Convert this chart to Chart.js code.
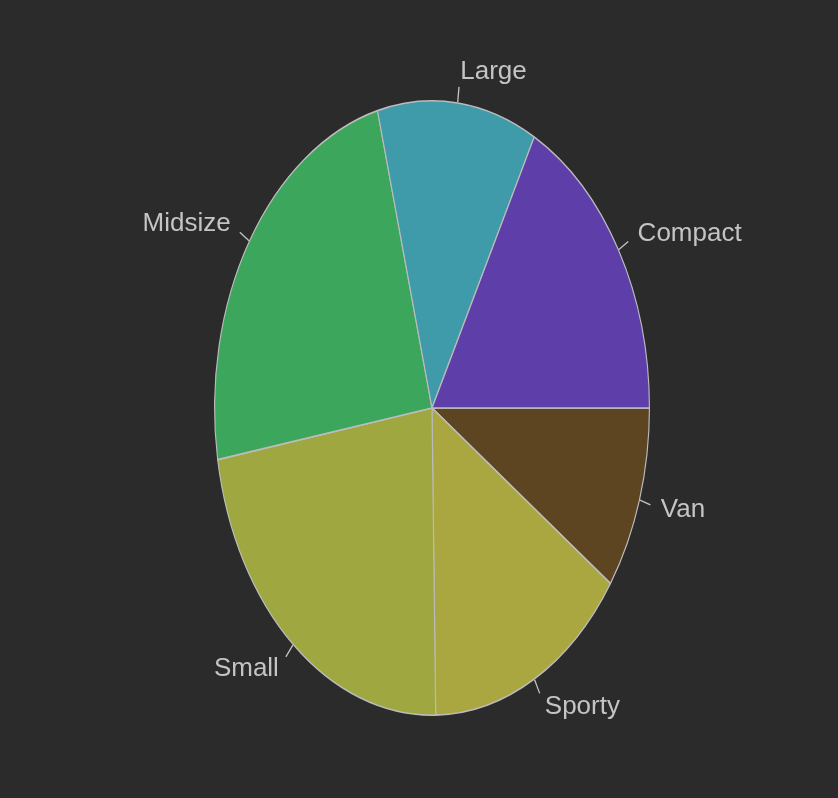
<!DOCTYPE html>
<html>
<head>
<meta charset="utf-8">
<script src="https://cdn.jsdelivr.net/npm/chart.js@4"></script>
<style>
  html, body { margin: 0; padding: 0; background: #2b2b2b; }
  #wrap { width: 838px; height: 798px; }
</style>
</head>
<body>
<div id="wrap"><canvas id="pieChart" width="838" height="798"></canvas></div>
<script>
// 차량 유형별 개수 (반시계 방향, 동쪽에서 시작)
const categories = ['Compact', 'Large', 'Midsize', 'Small', 'Sporty', 'Van'];
const counts = [16, 11, 22, 21, 14, 9];
const sliceColors = ['#5e3ea9', '#3f9ba9', '#3da65d', '#9ea740', '#aaa740', '#5d4522'];

const CX = 432, CY = 408;
const RX = 218, RY = 308;
const textColor = '#c4c4c4';

// Chart.js 는 시계 방향으로 그리므로 순서를 뒤집는다
const labelsCW = categories.slice().reverse();
const dataCW = counts.slice().reverse();
const colorsCW = sliceColors.slice().reverse();

// 원을 가로로 눌러 타원으로 만들고, 라벨은 변형 없이 그린다
const ellipsePlugin = {
    id: 'ellipse',
    beforeDatasetsDraw(chart) {
        const ctx = chart.ctx;
        ctx.save();
        ctx.translate(CX, CY);
        ctx.scale(RX / RY, 1);
        ctx.translate(-CX, -CY);
    },
    afterDatasetsDraw(chart) {
        const ctx = chart.ctx;
        ctx.restore();

        const meta = chart.getDatasetMeta(0);
        ctx.save();
        ctx.font = '26px "Liberation Sans", Arial, sans-serif';
        ctx.fillStyle = textColor;
        ctx.strokeStyle = textColor;
        ctx.lineWidth = 1.3;
        ctx.textBaseline = 'middle';
        meta.data.forEach((arc, i) => {
            const mid = (arc.startAngle + arc.endAngle) / 2;
            const c = Math.cos(mid), s = Math.sin(mid);
            ctx.beginPath();
            ctx.moveTo(CX + RX * c, CY + RY * s);
            ctx.lineTo(CX + RX * 1.05 * c, CY + RY * 1.05 * s);
            ctx.stroke();
            ctx.textAlign = c >= 0 ? 'left' : 'right';
            ctx.fillText(chart.data.labels[i], CX + RX * 1.1 * c, CY + RY * 1.1 * s);
        });
        ctx.restore();
    }
};

new Chart(document.getElementById('pieChart'), {
    type: 'pie',
    data: {
        labels: labelsCW,
        datasets: [{
            data: dataCW,
            backgroundColor: colorsCW,
            borderColor: '#bcbcbc',
            borderWidth: 1.6
        }]
    },
    options: {
        responsive: false,
        animation: false,
        rotation: 90,
        layout: {
            padding: { left: CX - RY, right: 838 - CX - RY, top: CY - RY, bottom: 798 - CY - RY }
        },
        plugins: {
            legend: { display: false },
            tooltip: { enabled: false }
        }
    },
    plugins: [ellipsePlugin]
});
</script>
</body>
</html>
